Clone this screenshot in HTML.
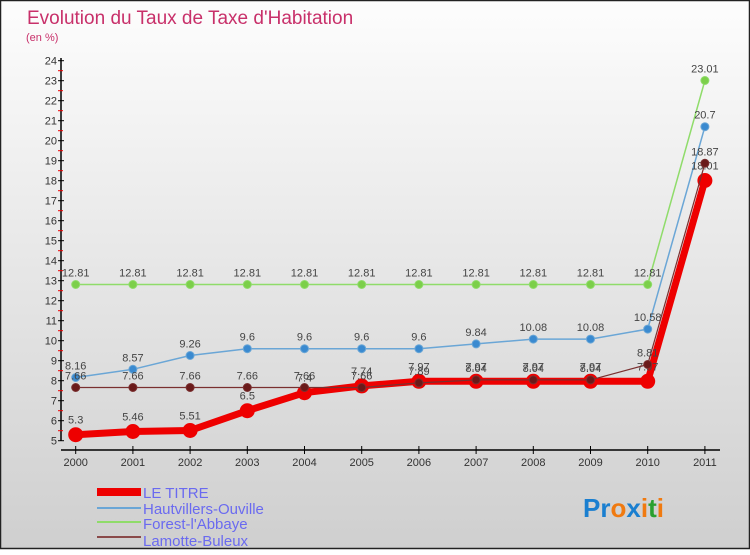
<!DOCTYPE html>
<html><head><meta charset="utf-8"><style>
body{margin:0;width:750px;height:550px;overflow:hidden;font-family:"Liberation Sans",sans-serif}
</style></head><body>
<svg width="750" height="550" xmlns="http://www.w3.org/2000/svg">
<defs><linearGradient id="bg" x1="0" y1="0" x2="0" y2="1"><stop offset="0" stop-color="#fdfdfd"/><stop offset="1" stop-color="#cfcfcf"/></linearGradient></defs>
<rect x="0.5" y="0.5" width="749" height="548" fill="url(#bg)" stroke="#222" stroke-width="1.5"/>
<text x="27" y="24" font-size="19" fill="#c8306a">Evolution du Taux de Taxe d'Habitation</text>
<text x="26" y="41" font-size="11" fill="#c8306a">(en %)</text>
<g id="axes"></g><g id="series"></g>
<g font-size="15" fill="#6a6af0">
<rect x="97" y="488" width="44" height="8" fill="#ee0000"/>
<line x1="97" y1="508" x2="141" y2="508" stroke="#6aa6d6" stroke-width="2"/>
<line x1="97" y1="522" x2="141" y2="522" stroke="#8fdc6a" stroke-width="2"/>
<line x1="97" y1="537" x2="141" y2="537" stroke="#8a4a4a" stroke-width="2"/>
<text x="143" y="498">LE TITRE</text>
<text x="143" y="514">Hautvillers-Ouville</text>
<text x="143" y="529">Forest-l'Abbaye</text>
<text x="143" y="546">Lamotte-Buleux</text>
</g>
<text x="583" y="517" font-size="26" font-weight="bold"><tspan fill="#1a7fd0">Pr</tspan><tspan fill="#f07a10">o</tspan><tspan fill="#1a7fd0">x</tspan><tspan fill="#f07a10">i</tspan><tspan fill="#2aa030">t</tspan><tspan fill="#f07a10">i</tspan></text>
</svg>
<script>
const years=[2000,2001,2002,2003,2004,2005,2006,2007,2008,2009,2010,2011];
const leTitre=[5.3,5.46,5.51,6.5,7.4,7.74,7.97,7.97,7.97,7.97,7.97,18.01];
const hautvillers=[8.16,8.57,9.26,9.6,9.6,9.6,9.6,9.84,10.08,10.08,10.58,20.7];
const forest=[12.81,12.81,12.81,12.81,12.81,12.81,12.81,12.81,12.81,12.81,12.81,23.01];
const lamotte=[7.66,7.66,7.66,7.66,7.66,7.66,7.89,8.04,8.04,8.04,8.81,18.87];
const yTicks=[5,6,7,8,9,10,11,12,13,14,15,16,17,18,19,20,21,22,23,24];
const NS="http://www.w3.org/2000/svg";
const xs=i=>75.7+i*57.2;
const ys=v=>440.7-(v-5)*20;
function mk(t,a,p){const e=document.createElementNS(NS,t);for(const k in a)e.setAttribute(k,a[k]);p.appendChild(e);return e;}
const ax=document.getElementById('axes');
let l=mk('line',{x1:61,y1:58,x2:61,y2:441,stroke:'#000','stroke-width':1.5},ax);


l=mk('line',{x1:61,y1:450,x2:720,y2:450,stroke:'#000','stroke-width':1.5},ax);


yTicks.forEach(v=>{
 mk('line',{x1:58,y1:ys(v),x2:64,y2:ys(v),stroke:'#000'},ax);
 if(v<24)mk('line',{x1:58,y1:ys(v+0.5),x2:63,y2:ys(v+0.5),stroke:'#e00'},ax);
 const t=mk('text',{x:57,y:ys(v)+4,'text-anchor':'end','font-size':11,fill:'#333'},ax);
 
 
 t.textContent=v;
});
years.forEach((y,i)=>{
 mk('line',{x1:xs(i),y1:446,x2:xs(i),y2:454,stroke:'#000'},ax);
 const t=mk('text',{x:xs(i),y:466,'text-anchor':'middle','font-size':11,fill:'#333'},ax);
 
 
 t.textContent=y;
});
const sg=document.getElementById('series');
function series(name,data,color,w,r,dot){
 const g=mk('g',{},sg);
 
 
 mk('polyline',{points:data.map((v,i)=>xs(i)+','+ys(v)).join(' '),fill:'none',stroke:color,'stroke-width':w,'stroke-linejoin':'round'},g);
 data.forEach((v,i)=>{
  const c=mk('circle',{cx:xs(i),cy:ys(v),r:r,fill:dot,stroke:color,'stroke-width':1},g);
  
  
  const t=mk('text',{x:xs(i),y:ys(v)-r-4,'text-anchor':'middle','font-size':11,fill:'#444'},g);
  
  
  t.textContent=v;
 });
}
series('forest-series',forest,'#8fdc6a',1.5,4,'#7ccf4a');
series('hautvillers-series',hautvillers,'#6aa6d6',1.5,4,'#3a8ad0');
series('le-titre-series',leTitre,'#ee0000',7,7,'#ee0000');
series('lamotte-series',lamotte,'#7a3030',1.2,4,'#6a1a1a');
</script>
</body></html>
